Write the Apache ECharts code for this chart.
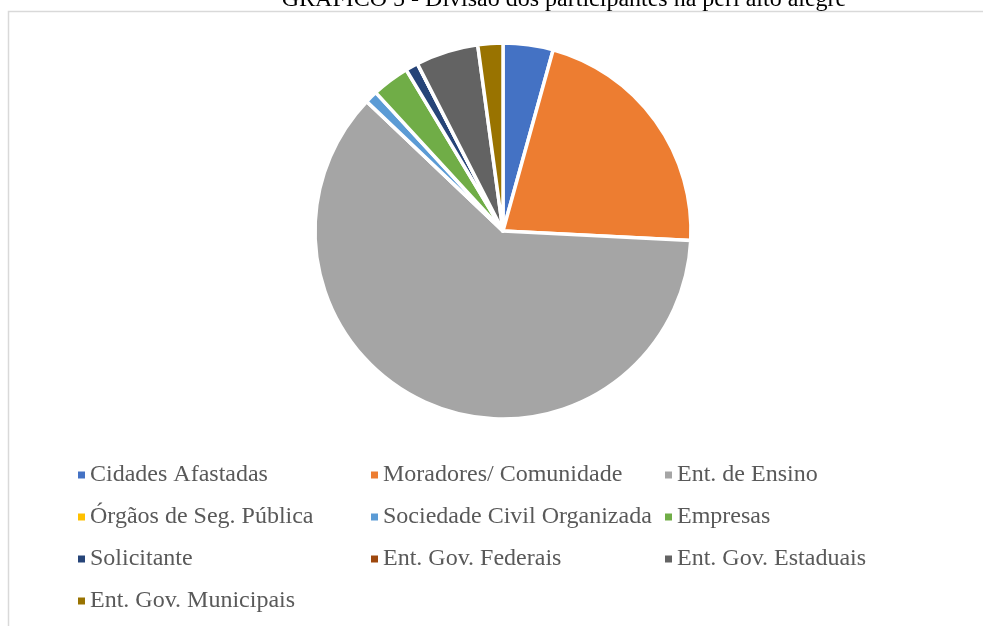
<!DOCTYPE html>
<html>
<head>
<meta charset="utf-8">
<script src="https://cdn.jsdelivr.net/npm/echarts@6/dist/echarts.min.js"></script>
<style>
  html, body { margin: 0; padding: 0; background: #fff; }
  #chart { width: 983px; height: 626px; }
</style>
</head>
<body>
<div id="chart"></div>
<script>
// Participant groups and their counts
const categories = [
  'Cidades Afastadas',
  'Moradores/ Comunidade',
  'Ent. de Ensino',
  'Órgãos de Seg. Pública',
  'Sociedade Civil Organizada',
  'Empresas',
  'Solicitante',
  'Ent. Gov. Federais',
  'Ent. Gov. Estaduais',
  'Ent. Gov. Municipais'
];
const counts = [4, 20, 57, 0, 1, 3, 1, 0, 5, 2];
const palette = ['#4472C4', '#ED7D31', '#A5A5A5', '#FFC000', '#5B9BD5',
                 '#70AD47', '#264478', '#9E480E', '#636363', '#997300'];
const titleText = 'GRÁFICO 5 - Divisão dos participantes na peri alto alegre';

// Legend columns (read row by row, three entries per row)
const legendColumns = [
  { left: 73, names: [categories[0], categories[3], categories[6], categories[9]] },
  { left: 366, names: [categories[1], categories[4], categories[7]] },
  { left: 660, names: [categories[2], categories[5], categories[8]] }
];

const serif = '"Liberation Serif", "Times New Roman", serif';

const chart = echarts.init(document.getElementById('chart'), null, { renderer: 'canvas' });

chart.setOption({
  animation: false,
  color: palette,
  title: {
    text: titleText,
    left: 559,
    textAlign: 'center',
    top: -17,
    textStyle: { fontFamily: serif, fontSize: 24, fontWeight: 'normal', color: '#000' }
  },
  graphic: [{
    type: 'rect',
    shape: { x: 8.5, y: 11.5, width: 1000, height: 700 },
    style: { fill: 'none', stroke: '#d9d9d9', lineWidth: 1.5 },
    silent: true,
    z: -10
  }],
  legend: legendColumns.map(col => ({
    orient: 'vertical',
    left: col.left,
    top: 458,
    data: col.names,
    icon: 'rect',
    itemWidth: 7,
    itemHeight: 7,
    itemGap: 18,
    selectedMode: false,
    itemStyle: { borderWidth: 0 },
    textStyle: { fontFamily: serif, fontSize: 24, color: '#595959', lineHeight: 24, padding: [0, 0, 0, 0] }
  })),
  series: [{
    type: 'pie',
    center: [503, 231],
    radius: [0, 188],
    startAngle: 90,
    clockwise: true,
    label: { show: false },
    labelLine: { show: false },
    emphasis: { disabled: true },
    itemStyle: { borderColor: '#fff', borderWidth: 3.5 },
    data: categories.map((name, i) => ({ name, value: counts[i] }))
  }]
});
</script>
</body>
</html>
